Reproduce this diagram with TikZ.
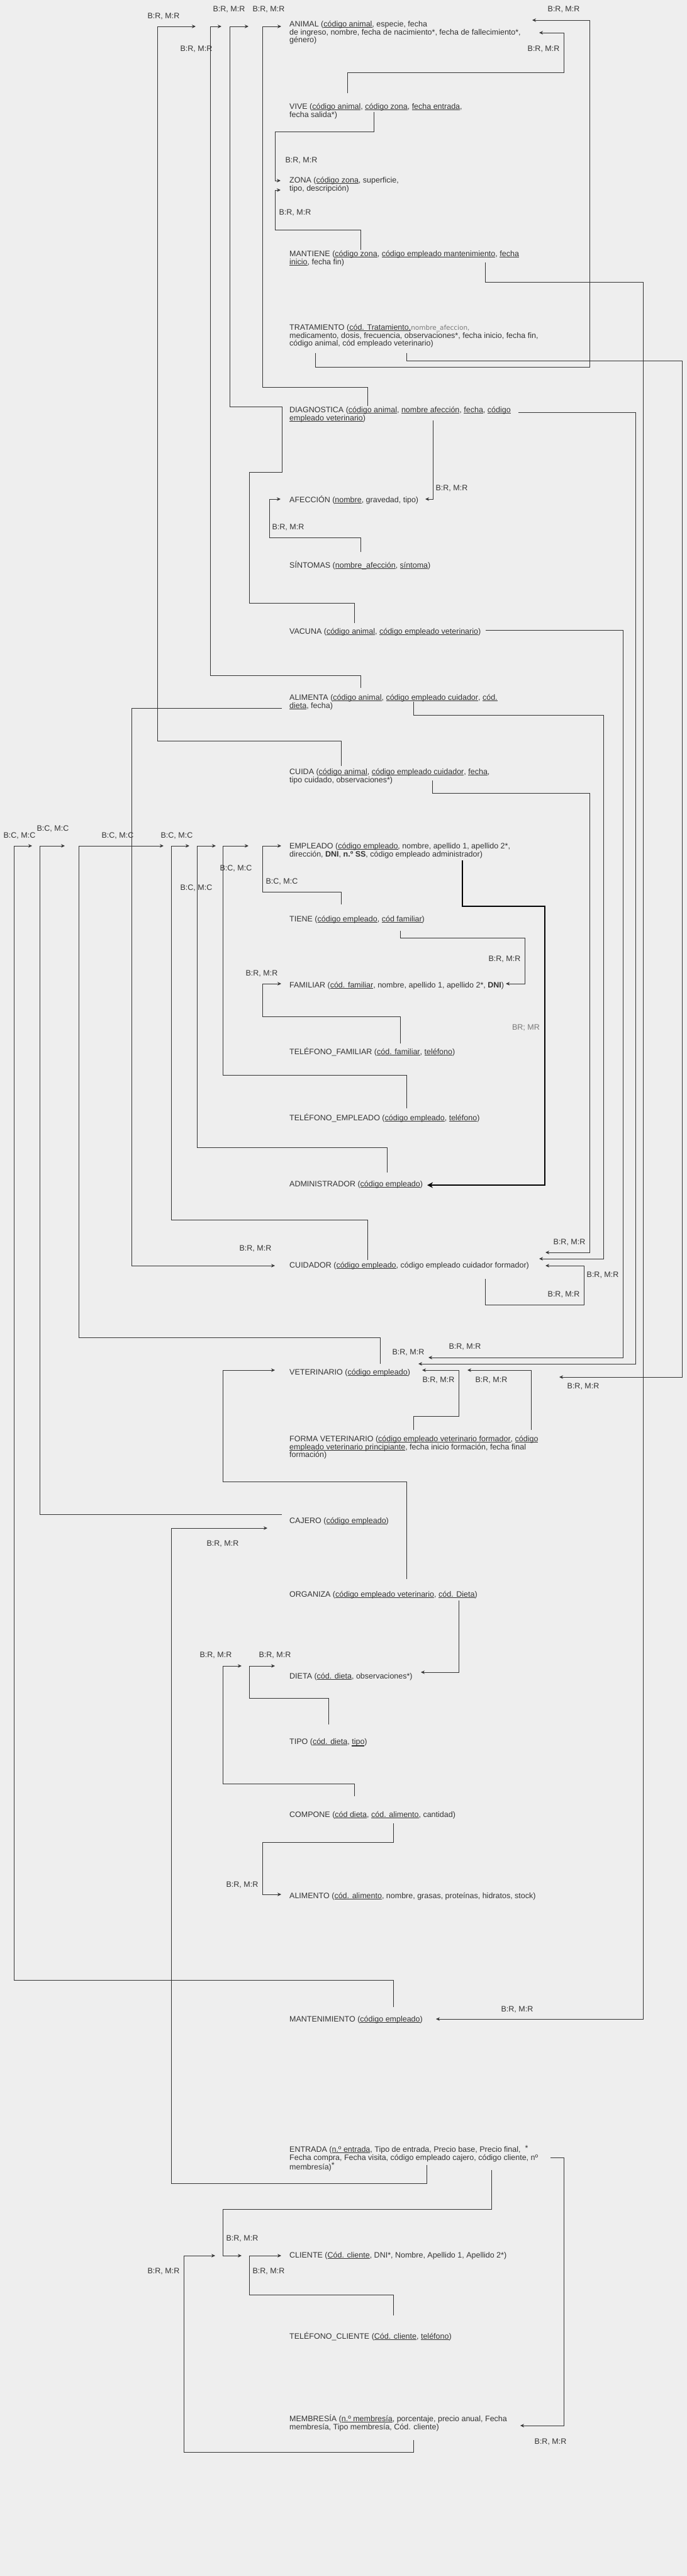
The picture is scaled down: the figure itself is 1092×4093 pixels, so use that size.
\documentclass[tikz,border=0pt]{standalone}
\usepackage{fontspec}
\setmainfont{Liberation Sans}
\newfontfamily\altfont{DejaVu Sans}
\usetikzlibrary{arrows.meta}
\definecolor{bg}{HTML}{EEEEEE}
\definecolor{ink}{HTML}{333333}
\definecolor{soft}{HTML}{777777}
\newcommand\ulx[1]{\setbox0=\hbox{#1}\rlap{\rule[-1.8pt]{\wd0}{0.6pt}}\box0}
\newcommand\ulthick[1]{\setbox0=\hbox{#1}\rlap{\rule[-3.4pt]{\wd0}{1.8pt}}\box0}
\newcommand\fl{\rule{0pt}{12pt}}
\begin{document}
\begin{tikzpicture}[x=1pt,y=-1pt,
  tbl/.style={anchor=north west,inner sep=0pt,align=left,text=ink,font=\fontsize{12.5}{12.8}\selectfont},
  lab/.style={inner sep=0pt,text=ink,font=\fontsize{12.5}{12.8}\selectfont},
  conn/.style={draw=ink,line width=0.75pt,-{Stealth[length=6pt,width=5.5pt]}},
  heavy/.style={draw=black,line width=2.2pt,-{Stealth[length=9pt,width=9pt]}}]
\fill[bg] (0,0) rectangle (1092,4093);
\useasboundingbox (0,0) rectangle (1092,4093);

% ---------- relations ----------
\node[tbl] (animal) at (460,30) {\fl ANIMAL (\ulx{código animal}, especie, fecha\\de ingreso, nombre, fecha de nacimiento*, fecha de fallecimiento*,\\género)};
\node[tbl] (vive) at (460,161) {\fl VIVE (\ulx{código animal}, \ulx{código zona}, \ulx{fecha entrada},\\fecha salida*)};
\node[tbl] (zona) at (460,278) {\fl ZONA (\ulx{código zona}, superficie,\\tipo, descripción)};
\node[tbl] (mantiene) at (460,395) {\fl MANTIENE (\ulx{código zona}, \ulx{código empleado mantenimiento}, \ulx{fecha}\\\ulx{inicio}, fecha fin)};
\node[tbl] (tratamiento) at (460,512) {\fl TRATAMIENTO (\ulx{cód. Tratamiento,} {\altfont\fontsize{10.5}{12.8}\selectfont\color{soft}nombre\_afeccion,}\\medicamento, dosis, frecuencia, observaciones*, fecha inicio, fecha fin,\\código animal, cód empleado veterinario)};
\node[tbl] (diagnostica) at (460,643) {\fl DIAGNOSTICA (\ulx{código animal}, \ulx{nombre afección}, \ulx{fecha}, \ulx{código}\\\ulx{empleado veterinario})};
\node[tbl] (afeccion) at (460,786) {\fl AFECCIÓN (\ulx{nombre}, gravedad, tipo)};
\node[tbl] (sintomas) at (460,890) {\fl SÍNTOMAS (\ulx{nombre\_afección}, \ulx{síntoma})};
\node[tbl] (vacuna) at (460,995) {\fl VACUNA (\ulx{código animal}, \ulx{código empleado veterinario})};
\node[tbl] (alimenta) at (460,1100) {\fl ALIMENTA (\ulx{código animal}, \ulx{código empleado cuidador}, \ulx{cód.}\\\ulx{dieta}, fecha)};
\node[tbl] (cuida) at (460,1218) {\fl CUIDA (\ulx{código animal}, \ulx{código empleado cuidador}, \ulx{fecha},\\tipo cuidado, observaciones*)};
\node[tbl] (empleado) at (460,1336) {\fl EMPLEADO (\ulx{código empleado}, nombre, apellido 1, apellido 2*,\\dirección, \textbf{DNI}, \textbf{n.º SS}, código empleado administrador)};
\node[tbl] (tiene) at (460,1452) {\fl TIENE (\ulx{código empleado}, \ulx{cód familiar})};
\node[tbl] (familiar) at (460,1557) {\fl FAMILIAR (\ulx{cód. familiar}, nombre, apellido 1, apellido 2*, \textbf{DNI})};
\node[tbl] (telfam) at (460,1663) {\fl TELÉFONO\_FAMILIAR (\ulx{cód. familiar}, \ulx{teléfono})};
\node[tbl] (telemp) at (460,1768) {\fl TELÉFONO\_EMPLEADO (\ulx{código empleado}, \ulx{teléfono})};
\node[tbl] (admin) at (460,1873) {\fl ADMINISTRADOR (\ulx{código empleado})};
\node[tbl] (cuidador) at (460,2002) {\fl CUIDADOR (\ulx{código empleado}, código empleado cuidador formador)};
\node[tbl] (vet) at (460,2172) {\fl VETERINARIO (\ulx{código empleado})};
\node[tbl] (forma) at (460,2278) {\fl FORMA VETERINARIO (\ulx{código empleado veterinario formador}, \ulx{código}\\\ulx{empleado veterinario principiante}, fecha inicio formación, fecha final\\formación)};
\node[tbl] (cajero) at (460,2408) {\fl CAJERO (\ulx{código empleado})};
\node[tbl] (organiza) at (460,2525) {\fl ORGANIZA (\ulx{código empleado veterinario}, \ulx{cód. Dieta})};
\node[tbl] (dieta) at (460,2655) {\fl DIETA (\ulx{cód. dieta}, observaciones*)};
\node[tbl] (tipo) at (460,2759) {\fl TIPO (\ulx{cód. dieta}, \ulthick{tipo})};
\node[tbl] (compone) at (460,2875) {\fl COMPONE (\ulx{cód dieta}, \ulx{cód. alimento}, cantidad)};
\node[tbl] (alimento) at (460,3004) {\fl ALIMENTO (\ulx{cód. alimento}, nombre, grasas, proteínas, hidratos, stock)};
\node[tbl] (mant) at (460,3200) {\fl MANTENIMIENTO (\ulx{código empleado})};
\node[tbl] (entrada) at (460,3407) {\fl ENTRADA (\ulx{n.º entrada}, Tipo de entrada, Precio base, Precio final,\hspace{7pt}\raisebox{2pt}{*}\\Fecha compra, Fecha visita, código empleado cajero, código cliente, nº\\membresía)\raisebox{3pt}{*}};
\node[tbl] (cliente) at (460,3575) {\fl CLIENTE (\ulx{Cód. cliente}, DNI*, Nombre, Apellido 1, Apellido 2*)};
\node[tbl] (telcli) at (460,3704) {\fl TELÉFONO\_CLIENTE (\ulx{Cód. cliente}, \ulx{teléfono})};
\node[tbl] (membresia) at (460,3835) {\fl MEMBRESÍA (\ulx{n.º membresía}, porcentaje, precio anual, Fecha\\membresía, Tipo membresía, Cód. cliente)};

% ---------- connector end points ----------
\coordinate (cuida-o) at (542,1217);   \coordinate (animal-i1) at (311,42);
\coordinate (alimenta-o) at (573,1093);\coordinate (animal-i2) at (352,42);
\coordinate (vacuna-o) at (563,990);   \coordinate (animal-i3) at (395,42);
\coordinate (diag-o) at (584,645);     \coordinate (animal-i4) at (447,42);
\coordinate (trat-o1) at (501,561);    \coordinate (animal-i5) at (846,32);
\coordinate (vive-o1) at (552,148);    \coordinate (animal-i6) at (857,52);
\coordinate (vive-o2) at (594,178);    \coordinate (zona-i1) at (446,287);
\coordinate (mantiene-o1) at (573,397);\coordinate (zona-i2) at (446,302);
\coordinate (mantiene-o2) at (771,417);\coordinate (mant-i) at (693,3208);
\coordinate (trat-o2) at (646,561);    \coordinate (vet-i5) at (889,2188);
\coordinate (diag-o2) at (824,655);    \coordinate (vet-i2) at (665,2167);
\coordinate (diag-o3) at (688,668);    \coordinate (afeccion-i2) at (676,793);
\coordinate (sintomas-o) at (573,877); \coordinate (afeccion-i1) at (446,793);
\coordinate (vacuna-o2) at (772,1001); \coordinate (vet-i1) at (681,2157);
\coordinate (alimenta-o2) at (448,1125);\coordinate (cuidador-i0) at (437,2011);
\coordinate (alimenta-o3) at (657,1115);\coordinate (cuidador-i2) at (857,2000);
\coordinate (cuida-o2) at (687,1240);  \coordinate (cuidador-i1) at (867,1990);
\coordinate (cuidador-o) at (771,2032);\coordinate (cuidador-i3) at (867,2011);
\coordinate (mant-o) at (625,3189);    \coordinate (emp-i1) at (51,1344);
\coordinate (cajero-o) at (448,2406);  \coordinate (emp-i2) at (103,1344);
\coordinate (vet-o) at (604,2167);     \coordinate (emp-i3) at (260,1344);
\coordinate (cuidador-o2) at (584,2002);\coordinate (emp-i4) at (301,1344);
\coordinate (admin-o) at (615,1863);   \coordinate (emp-i5) at (343,1344);
\coordinate (telemp-o) at (646,1761);  \coordinate (emp-i6) at (395,1344);
\coordinate (tiene-o) at (542,1437);   \coordinate (emp-i7) at (447,1344);
\coordinate (emp-o) at (735,1367);     \coordinate (admin-i) at (679,1883);
\coordinate (tiene-o2) at (636,1479);  \coordinate (familiar-i2) at (804,1563);
\coordinate (telfam-o) at (636,1658);  \coordinate (familiar-i1) at (447,1563);
\coordinate (forma-o1) at (657,2272);  \coordinate (vet-i3) at (671,2177);
\coordinate (forma-o2) at (844,2272);  \coordinate (vet-i4) at (743,2177);
\coordinate (organiza-o) at (646,2509);\coordinate (vet-i0) at (437,2177);
\coordinate (entrada-o1) at (678,3440);\coordinate (cajero-i) at (425,2428);
\coordinate (organiza-o2) at (729,2543);\coordinate (dieta-i3) at (669,2657);
\coordinate (compone-o) at (563,2854); \coordinate (dieta-i1) at (384,2647);
\coordinate (tipo-o) at (522,2740);    \coordinate (dieta-i2) at (437,2647);
\coordinate (compone-o2) at (625,2897);\coordinate (alimento-i) at (447,3010);
\coordinate (entrada-o2) at (875,3428);\coordinate (membresia-i) at (827,3854);
\coordinate (entrada-o3) at (781,3448);\coordinate (cliente-i2) at (384,3584);
\coordinate (membresia-o) at (657,3877);\coordinate (cliente-i1) at (342,3584);
\coordinate (telcli-o) at (625,3679);  \coordinate (cliente-i3) at (447,3584);

% ---------- connectors ----------
\draw[conn] (cuida-o) -- (542,1177) -- (250,1177) -- (250,42) -- (animal-i1);
\draw[conn] (alimenta-o) -- (573,1073) -- (334,1073) -- (334,42) -- (animal-i2);
\draw[conn] (vacuna-o) -- (563,958) -- (396,958) -- (396,750) -- (448,750) -- (448,646) -- (365,646) -- (365,42) -- (animal-i3);
\draw[conn] (diag-o) -- (584,615) -- (417,615) -- (417,42) -- (animal-i4);
\draw[conn] (trat-o1) -- (501,583) -- (937,583) -- (937,32) -- (animal-i5);
\draw[conn] (vive-o1) -- (552,115) -- (896,115) -- (896,52) -- (animal-i6);
\draw[conn] (vive-o2) -- (594,209) -- (437,209) -- (437,287) -- (zona-i1);
\draw[conn] (mantiene-o1) -- (573,365) -- (437,365) -- (437,302) -- (zona-i2);
\draw[conn] (mantiene-o2) -- (771,448) -- (1022,448) -- (1022,3208) -- (mant-i);
\draw[conn] (trat-o2) -- (646,573) -- (1084,573) -- (1084,2188) -- (vet-i5);
\draw[conn] (diag-o2) -- (1010,655) -- (1010,2167) -- (vet-i2);
\draw[conn] (diag-o3) -- (688,793) -- (afeccion-i2);
\draw[conn] (sintomas-o) -- (573,854) -- (428,854) -- (428,793) -- (afeccion-i1);
\draw[conn] (vacuna-o2) -- (990,1001) -- (990,2157) -- (vet-i1);
\draw[conn] (alimenta-o2) -- (209,1125) -- (209,2011) -- (cuidador-i0);
\draw[conn] (alimenta-o3) -- (657,1136) -- (959,1136) -- (959,2000) -- (cuidador-i2);
\draw[conn] (cuida-o2) -- (687,1260) -- (937,1260) -- (937,1990) -- (cuidador-i1);
\draw[conn] (cuidador-o) -- (771,2073) -- (928,2073) -- (928,2011) -- (cuidador-i3);
\draw[conn] (mant-o) -- (625,3146) -- (22,3146) -- (22,1344) -- (emp-i1);
\draw[conn] (cajero-o) -- (63,2406) -- (63,1344) -- (emp-i2);
\draw[conn] (vet-o) -- (604,2125) -- (125,2125) -- (125,1344) -- (emp-i3);
\draw[conn] (cuidador-o2) -- (584,1938) -- (272,1938) -- (272,1344) -- (emp-i4);
\draw[conn] (admin-o) -- (615,1823) -- (313,1823) -- (313,1344) -- (emp-i5);
\draw[conn] (telemp-o) -- (646,1708) -- (354,1708) -- (354,1344) -- (emp-i6);
\draw[conn] (tiene-o) -- (542,1417) -- (417,1417) -- (417,1344) -- (emp-i7);
\draw[heavy] (emp-o) -- (735,1440) -- (866,1440) -- (866,1883) -- (admin-i);
\draw[conn] (tiene-o2) -- (636,1490) -- (834,1490) -- (834,1563) -- (familiar-i2);
\draw[conn] (telfam-o) -- (636,1615) -- (417,1615) -- (417,1563) -- (familiar-i1);
\draw[conn] (forma-o1) -- (657,2250) -- (729,2250) -- (729,2177) -- (vet-i3);
\draw[conn] (forma-o2) -- (844,2177) -- (vet-i4);
\draw[conn] (organiza-o) -- (646,2354) -- (354,2354) -- (354,2177) -- (vet-i0);
\draw[conn] (entrada-o1) -- (678,3469) -- (272,3469) -- (272,2428) -- (cajero-i);
\draw[conn] (organiza-o2) -- (729,2657) -- (dieta-i3);
\draw[conn] (compone-o) -- (563,2834) -- (354,2834) -- (354,2647) -- (dieta-i1);
\draw[conn] (tipo-o) -- (522,2698) -- (396,2698) -- (396,2647) -- (dieta-i2);
\draw[conn] (compone-o2) -- (625,2927) -- (417,2927) -- (417,3010) -- (alimento-i);
\draw[conn] (entrada-o2) -- (896,3428) -- (896,3854) -- (membresia-i);
\draw[conn] (entrada-o3) -- (781,3510) -- (354,3510) -- (354,3584) -- (cliente-i2);
\draw[conn] (membresia-o) -- (657,3896) -- (292,3896) -- (292,3584) -- (cliente-i1);
\draw[conn] (telcli-o) -- (625,3646) -- (396,3646) -- (396,3584) -- (cliente-i3);

% ---------- cardinality labels ----------
\node[lab] (l1) at (260,26) {B:R, M:R};
\node[lab] (l2) at (364,15) {B:R, M:R};
\node[lab] (l3) at (427,15) {B:R, M:R};
\node[lab] (l4) at (896,15) {B:R, M:R};
\node[lab] (l5) at (312,78) {B:R, M:R};
\node[lab] (l6) at (864,78) {B:R, M:R};
\node[lab] (l7) at (479,255) {B:R, M:R};
\node[lab] (l8) at (469,338) {B:R, M:R};
\node[lab] (l9) at (718,776) {B:R, M:R};
\node[lab] (l10) at (458,838) {B:R, M:R};
\node[lab] (l11) at (31,1328) {B:C, M:C};
\node[lab] (l12) at (84,1317) {B:C, M:C};
\node[lab] (l13) at (187,1328) {B:C, M:C};
\node[lab] (l14) at (281,1328) {B:C, M:C};
\node[lab] (l15) at (375,1380) {B:C, M:C};
\node[lab] (l16) at (448,1401) {B:C, M:C};
\node[lab] (l17) at (312,1411) {B:C, M:C};
\node[lab] (l18) at (802,1524) {B:R, M:R};
\node[lab] (l19) at (416,1547) {B:R, M:R};
\node[lab,text=soft] (l20) at (836,1633) {BR; MR};
\node[lab] (l21) at (905,1974) {B:R, M:R};
\node[lab] (l22) at (406,1984) {B:R, M:R};
\node[lab] (l23) at (958,2026) {B:R, M:R};
\node[lab] (l24) at (896,2057) {B:R, M:R};
\node[lab] (l25) at (739,2140) {B:R, M:R};
\node[lab] (l26) at (649,2149) {B:R, M:R};
\node[lab] (l27) at (697,2193) {B:R, M:R};
\node[lab] (l28) at (781,2193) {B:R, M:R};
\node[lab] (l29) at (927,2203) {B:R, M:R};
\node[lab] (l30) at (354,2453) {B:R, M:R};
\node[lab] (l31) at (343,2630) {B:R, M:R};
\node[lab] (l32) at (437,2630) {B:R, M:R};
\node[lab] (l33) at (385,2995) {B:R, M:R};
\node[lab] (l34) at (822,3193) {B:R, M:R};
\node[lab] (l35) at (385,3557) {B:R, M:R};
\node[lab] (l36) at (260,3609) {B:R, M:R};
\node[lab] (l37) at (427,3609) {B:R, M:R};
\node[lab] (l38) at (875,3880) {B:R, M:R};
\end{tikzpicture}
\end{document}
